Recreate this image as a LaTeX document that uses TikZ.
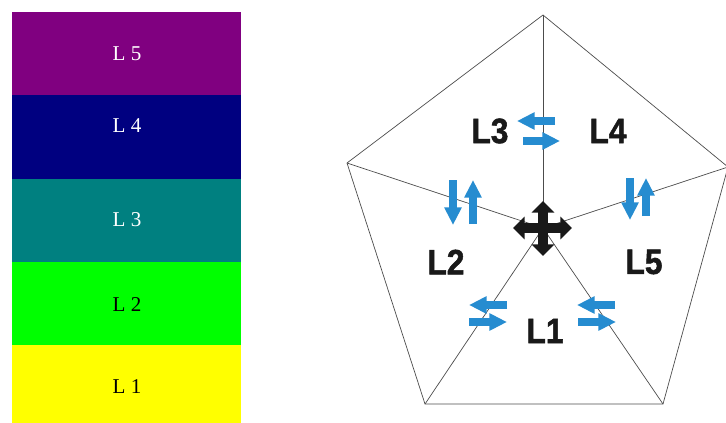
\documentclass[tikz,border=0pt]{standalone}
\usepackage{fontspec}
\newfontfamily\chulop{Liberation Serif}
\newfontfamily\chudam[BoldFeatures={FakeBold=1.6}]{Liberation Sans}
\usetikzlibrary{arrows.meta}

\definecolor{lop5}{RGB}{128,0,128}
\definecolor{lop4}{RGB}{0,0,128}
\definecolor{lop3}{RGB}{0,128,128}
\definecolor{lop2}{RGB}{0,255,0}
\definecolor{lop1}{RGB}{255,255,0}
\definecolor{xanh}{RGB}{38,140,208}

\begin{document}
\begin{tikzpicture}[x=0.03cm, y=-0.03cm,
    canh/.style={draw=black!70, line width=0.6pt},
    muixanh/.style={draw=xanh, line width=6.5pt, -{Triangle[length=15pt, width=14pt]}},
    chuthap/.style={draw=black!90, line width=9pt, {Triangle[length=10pt, width=19pt]}-{Triangle[length=10pt, width=19pt]}},
    nhan/.style={font=\chudam\bfseries\fontsize{30}{30}\selectfont, text=black!90, xscale=0.9}]
    \useasboundingbox (0,0) rectangle (726,423);

    % Cot cac lop
    \foreach \i/\y/\yy/\ly/\c in {5/12/95.5/54/white, 4/95.5/178.5/126/white,
        3/178.5/262/220/white, 2/262/345/305/black, 1/345/423/387/black}
    {
        \fill[lop\i] (12,\y) rectangle (241,\yy);
        \node[text=\c, font=\chulop\fontsize{18}{18}\selectfont] (l\i) at (127,\ly) {L \i};
    }

    % Ngu giac
    \coordinate (O) at (543,228);
    \coordinate (A) at (543,15);
    \coordinate (B) at (347,163);
    \coordinate (C) at (425,404);
    \coordinate (D) at (663,404);
    \coordinate (E) at (728,167);
    \draw[canh] (A) -- (B) -- (C) -- (D) -- (E) -- cycle;
    \foreach \p in {A,B,C,D,E}
        \draw[canh] (O) -- (\p);

    % Nhan cac vung
    \node[nhan] (n3) at (490,131) {L3};
    \node[nhan] (n4) at (608,131) {L4};
    \node[nhan] (n2) at (446,262) {L2};
    \node[nhan] (n5) at (644,262) {L5};
    \node[nhan] (n1) at (545,331) {L1};

    % Mui ten xanh
    \draw[muixanh] (555,121) -- (517,121);
    \draw[muixanh] (523,141) -- (560,141);
    \draw[muixanh] (453,180) -- (453,225);
    \draw[muixanh] (473,224) -- (473,180);
    \draw[muixanh] (630,178) -- (630,220);
    \draw[muixanh] (646,216) -- (646,178);
    \draw[muixanh] (507,305) -- (469,305);
    \draw[muixanh] (469,322) -- (507,322);
    \draw[muixanh] (615,305) -- (577,305);
    \draw[muixanh] (578,322) -- (616,322);

    % Chu thap o giua
    \draw[chuthap] (513,228) -- (572,228);
    \draw[chuthap] (O |- 0,201) -- (O |- 0,256);
\end{tikzpicture}
\end{document}
